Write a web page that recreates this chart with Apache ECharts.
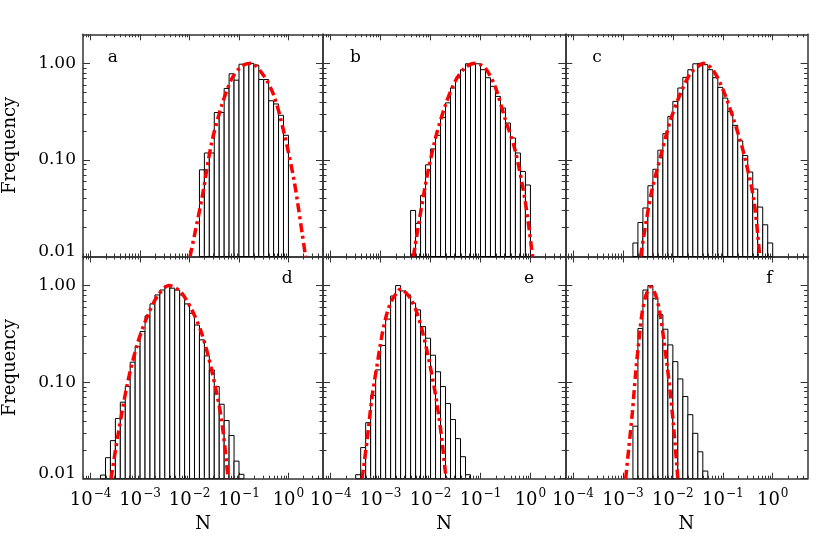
<!DOCTYPE html>
<html>
<head>
  <meta charset="utf-8">
  <title>Frequency histograms</title>
  <script src="https://cdn.jsdelivr.net/npm/echarts@6.0.0/dist/echarts.min.js"></script>
</head>
<body style="margin:0; background:#fff;">
  <div id="main" style="width: 830px; height: 552px;"></div>

  <script>
    // panel letters
    var panelNames = ['a', 'b', 'c', 'd', 'e', 'f'];

    // log10 of the left edge of each panel's first bin (bins are 0.1 dex wide)
    var binStart = [-1.8, -2.4, -2.8, -3.8, -3.5, -2.8];
    var binWidth = 0.1;

    // histogram heights (normalised frequency), read bin by bin
    var histA = [0.079, 0.118, 0.118, 0.31, 0.31, 0.55, 0.78, 0.67, 0.98, 1.0, 1.0, 0.96, 0.68, 0.68, 0.41, 0.38, 0.29, 0.18];
    var histB = [0.030, 0.022, 0.043, 0.089, 0.13, 0.18, 0.275, 0.39, 0.556, 0.71, 0.86, 0.99, 1.0, 0.99, 0.86, 0.71, 0.578, 0.455, 0.345, 0.241, 0.169, 0.118, 0.076, 0.055];
    var histC = [0.0138, 0.0225, 0.0318, 0.054, 0.080, 0.126, 0.187, 0.282, 0.404, 0.556, 0.716, 0.86, 0.99, 1.0, 0.97, 0.86, 0.71, 0.564, 0.437, 0.318, 0.228, 0.158, 0.111, 0.075, 0.050, 0.0325, 0.0213, 0.0138];
    var histD = [0.0109, 0.0165, 0.0248, 0.042, 0.062, 0.090, 0.161, 0.233, 0.334, 0.485, 0.646, 0.80, 0.90, 1.0, 0.94, 0.90, 0.80, 0.646, 0.517, 0.39, 0.274, 0.187, 0.134, 0.090, 0.059, 0.040, 0.028, 0.0152, 0.0111];
    var histE = [0.011, 0.021, 0.038, 0.073, 0.134, 0.24, 0.45, 0.78, 1.0, 0.88, 0.80, 0.66, 0.56, 0.376, 0.285, 0.19, 0.128, 0.090, 0.060, 0.041, 0.026, 0.0169, 0.011];
    var histF = [0.035, 0.36, 0.90, 1.0, 0.73, 0.50, 0.353, 0.243, 0.163, 0.108, 0.071, 0.046, 0.0295, 0.019, 0.012];

    // red fitted curves: [log10(N), frequency]
    var fitA = [[-1.99, 0.01], [-1.754, 0.039], [-1.554, 0.15], [-1.354, 0.36], [-1.154, 0.68], [-0.954, 0.93], [-0.754, 1.0], [-0.488, 0.73], [-0.288, 0.455], [-0.088, 0.19], [0.112, 0.062], [0.28, 0.017], [0.346, 0.01]];
    var fitB = [[-2.344, 0.01], [-2.11, 0.053], [-1.91, 0.162], [-1.71, 0.36], [-1.51, 0.65], [-1.31, 0.9], [-1.11, 1.0], [-0.91, 0.9], [-0.71, 0.58], [-0.51, 0.27], [-0.31, 0.128], [-0.11, 0.039], [0.044, 0.01]];
    var fitC = [[-2.646, 0.01], [-2.446, 0.042], [-2.246, 0.109], [-2.046, 0.26], [-1.846, 0.49], [-1.646, 0.79], [-1.446, 0.97], [-1.38, 1.0], [-1.18, 0.83], [-0.98, 0.51], [-0.78, 0.26], [-0.58, 0.117], [-0.38, 0.039], [-0.26, 0.01]];
    var fitD = [[-3.588, 0.01], [-3.454, 0.027], [-3.254, 0.098], [-3.054, 0.25], [-2.854, 0.48], [-2.654, 0.77], [-2.42, 1.0], [-2.188, 0.87], [-1.954, 0.56], [-1.754, 0.32], [-1.554, 0.134], [-1.354, 0.041], [-1.22, 0.01]];
    var fitE = [[-3.372, 0.01], [-3.272, 0.025], [-3.172, 0.071], [-3.072, 0.15], [-2.972, 0.31], [-2.872, 0.52], [-2.772, 0.71], [-2.64, 0.89], [-2.59, 0.92], [-2.54, 0.89], [-2.406, 0.74], [-2.272, 0.52], [-2.14, 0.30], [-2.006, 0.145], [-1.872, 0.06], [-1.772, 0.025], [-1.706, 0.012], [-1.686, 0.01]];
    var fitF = [[-2.946, 0.01], [-2.88, 0.0215], [-2.812, 0.048], [-2.746, 0.124], [-2.68, 0.27], [-2.612, 0.54], [-2.526, 0.83], [-2.446, 0.97], [-2.346, 0.80], [-2.26, 0.52], [-2.18, 0.27], [-2.08, 0.105], [-1.992, 0.0375], [-1.9, 0.01]];

    // axis ticks and labels
    var xTicks = [1e-4, 1e-3, 1e-2, 1e-1, 1];
    var xTickExp = ['\u22124', '\u22123', '\u22122', '\u22121', '0'];
    var yTicks = [0.01, 0.1, 1];
    var yTickLabels = ['0.01', '0.10', '1.00'];
    var X_MIN = 7e-5, X_MAX = 5;
    var Y_MIN = 0.01, Y_MAX = 2;

    var hists = [histA, histB, histC, histD, histE, histF];
    var fits = [fitA, fitB, fitC, fitD, fitE, fitF];

    // minor ticks at 2..9 of each decade
    var xMinor = [], yMinor = [];
    for (var d = -5; d <= 0; d++) {
      for (var m = 2; m <= 9; m++) {
        var v = m * Math.pow(10, d);
        if (v > X_MIN && v < X_MAX) xMinor.push(v);
        if (v > Y_MIN && v < Y_MAX) yMinor.push(v);
      }
    }

    var FONT = 'DejaVu Serif';
    var AXIS_COLOR = '#333';
    var MINOR_LEN = 3;

    // panel placement
    var colLeft = [80.7, 323, 565.3];
    var rowTop = [34.3, 256.5];
    var panelW = 242.3, panelH = 222.2;

    document.addEventListener("DOMContentLoaded", function () {
      var myChart = echarts.init(document.getElementById('main'));

      var grids = [], xAxes = [], yAxes = [], series = [], graphics = [];

      function xAxisDef(gi, pos, withLabel) {
        return {
          type: 'log', logBase: 10, gridIndex: gi, position: pos,
          min: X_MIN, max: X_MAX,
          axisLine: {show: true, lineStyle: {color: AXIS_COLOR, width: 1.5}},
          axisTick: {show: true, inside: true, length: 6, customValues: xTicks,
            lineStyle: {color: AXIS_COLOR, width: 1}},
          axisLabel: {
            show: withLabel, customValues: xTicks, margin: 9,
            formatter: function (val) {
              var k = Math.round(Math.log10(val)) + 4;
              return '{b|10}{s|' + xTickExp[k] + '}';
            },
            rich: {
              b: {fontFamily: FONT, fontSize: 18, color: '#000', lineHeight: 22, verticalAlign: 'bottom'},
              s: {fontFamily: FONT, fontSize: 12, color: '#000', lineHeight: 22, verticalAlign: 'top', padding: [0, 0, 8, 1]}
            }
          },
          splitLine: {show: false},
          name: withLabel ? 'N' : '', nameLocation: 'middle', nameGap: 37,
          nameTextStyle: {fontFamily: FONT, fontSize: 18, color: '#000'}
        };
      }

      function yAxisDef(gi, pos, withLabel) {
        return {
          type: 'log', logBase: 10, gridIndex: gi, position: pos,
          min: Y_MIN, max: Y_MAX,
          axisLine: {show: true, lineStyle: {color: AXIS_COLOR, width: 1.5}},
          axisTick: {show: true, inside: true, length: 7, customValues: yTicks,
            lineStyle: {color: AXIS_COLOR, width: 1}},
          axisLabel: {
            show: withLabel, customValues: yTicks, margin: 7,
            fontFamily: FONT, fontSize: 17, color: '#000',
            formatter: function (val) {
              var k = Math.round(Math.log10(val)) + 2;
              // the lowest label sits a little above its tick
              return k === 0 ? '{lo|' + yTickLabels[k] + '}' : yTickLabels[k];
            },
            rich: {
              lo: {fontFamily: FONT, fontSize: 17, color: '#000', padding: [0, 0, 10, 0]}
            }
          },
          splitLine: {show: false},
          name: withLabel ? 'Frequency' : '', nameLocation: 'middle', nameGap: 64,
          nameTextStyle: {fontFamily: FONT, fontSize: 18, color: '#000'}
        };
      }

      // histogram bars: rect from bin edges down to the axis bottom
      function renderBar(params, api) {
        var top = api.coord([api.value(0), api.value(2)]);
        var bottom = api.coord([api.value(1), Y_MIN]);
        return {
          type: 'rect',
          shape: {x: top[0], y: top[1], width: bottom[0] - top[0], height: bottom[1] - top[1]},
          style: {fill: '#fff', stroke: '#000', lineWidth: 1}
        };
      }

      function tickLine(x1, y1, x2, y2) {
        return {type: 'line', shape: {x1: x1, y1: y1, x2: x2, y2: y2},
          style: {stroke: AXIS_COLOR, lineWidth: 1}};
      }

      // minor ticks on the bottom and top edges
      function renderXMinor(params, api) {
        var cs = params.coordSys;
        var x = Math.round(api.coord([api.value(0), Y_MIN])[0]) + 0.5;
        var b = cs.y + cs.height;
        return {type: 'group', children: [
          tickLine(x, b, x, b - MINOR_LEN),
          tickLine(x, cs.y, x, cs.y + MINOR_LEN)
        ]};
      }

      // minor ticks on the left and right edges
      function renderYMinor(params, api) {
        var cs = params.coordSys;
        var y = Math.round(api.coord([X_MIN, api.value(1)])[1]) + 0.5;
        var r = cs.x + cs.width;
        return {type: 'group', children: [
          tickLine(cs.x, y, cs.x + MINOR_LEN + 0.5, y),
          tickLine(r, y, r - MINOR_LEN - 0.5, y)
        ]};
      }

      for (var p = 0; p < 6; p++) {
        var row = Math.floor(p / 3), col = p % 3;
        var box = {left: colLeft[col], top: rowTop[row], width: panelW, height: panelH};
        grids.push(box);

        xAxes.push(xAxisDef(p, 'bottom', row === 1));
        xAxes.push(xAxisDef(p, 'top', false));
        yAxes.push(yAxisDef(p, 'left', col === 0));
        yAxes.push(yAxisDef(p, 'right', false));

        var axisIdx = 2 * p;
        var bars = hists[p].map(function (h, i) {
          var s = binStart[p] + i * binWidth;
          return [Math.pow(10, s), Math.pow(10, s + binWidth), h];
        });
        series.push({
          type: 'custom', xAxisIndex: axisIdx, yAxisIndex: axisIdx,
          renderItem: renderBar, encode: {x: [0, 1], y: 2},
          data: bars, z: 2, silent: true
        });
        series.push({
          type: 'line', xAxisIndex: axisIdx, yAxisIndex: axisIdx,
          data: fits[p].map(function (pt) { return [Math.pow(10, pt[0]), pt[1]]; }),
          smooth: 0.3, showSymbol: false, z: 3, silent: true,
          lineStyle: {color: '#ff0000', width: 3.5, type: [9, 4, 3, 4], cap: 'butt'}
        });
        series.push({
          type: 'custom', xAxisIndex: axisIdx, yAxisIndex: axisIdx,
          renderItem: renderXMinor, encode: {x: 0, y: 1}, clip: false,
          data: xMinor.map(function (t) { return [t, Y_MIN]; }), z: 4, silent: true
        });
        series.push({
          type: 'custom', xAxisIndex: axisIdx, yAxisIndex: axisIdx,
          renderItem: renderYMinor, encode: {x: 0, y: 1}, clip: false,
          data: yMinor.map(function (t) { return [X_MIN, t]; }), z: 4, silent: true
        });

        // panel letter
        var lx = row === 0 ? box.left + 27 : box.left + 201;
        graphics.push({
          type: 'text', left: lx, top: row === 0 ? 49 : 270,
          style: {text: panelNames[p], font: '17px "DejaVu Serif"', fill: '#000'}
        });
      }

      var option = {
        animation: false,
        backgroundColor: '#fff',
        grid: grids,
        xAxis: xAxes,
        yAxis: yAxes,
        series: series,
        graphic: graphics
      };

      option && myChart.setOption(option);
    });
  </script>
</body>
</html>
